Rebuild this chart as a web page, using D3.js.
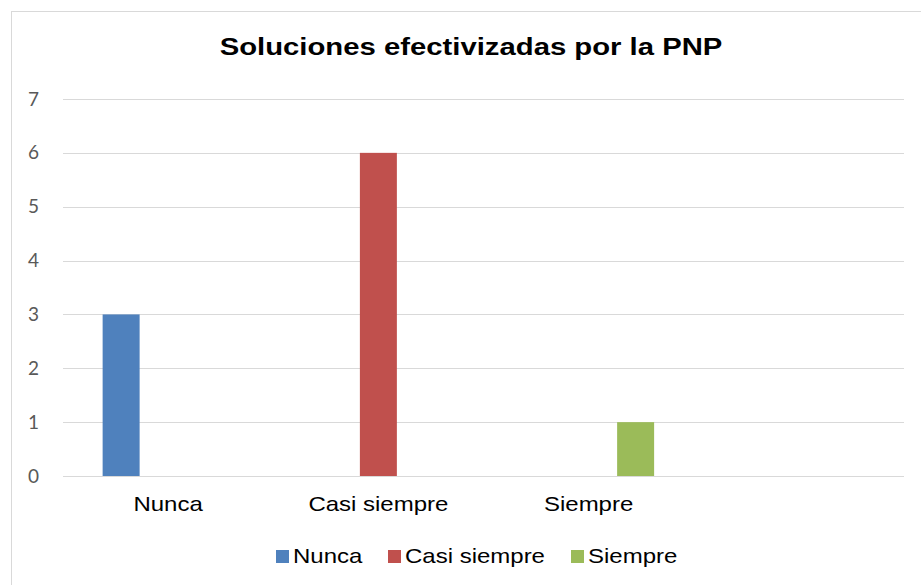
<!DOCTYPE html>
<meta charset="utf-8">
<script src="https://d3js.org/d3.v7.min.js"></script>
<style>
body { margin: 0; background: #fff; }
</style>
<div id="chart"></div>
<script>
// data
var categories = ["Nunca", "Casi siempre", "Siempre", ""];
var series = ["Nunca", "Casi siempre", "Siempre"];
var values = {
  "Nunca":        [3, 0, 0, 0],
  "Casi siempre": [0, 6, 0, 0],
  "Siempre":      [0, 0, 1, 0]
};
var yTicks = [0, 1, 2, 3, 4, 5, 6, 7];
var colors = ["#4F81BD", "#C0504D", "#9BBB59"];

var W = 921, H = 585;
var margin = {top: 99, right: 17, bottom: 109, left: 63},
    width = W - margin.left - margin.right,
    height = H - margin.top - margin.bottom;

// the source picture is a bit wider than tall, so text is stretched sideways
var stretch = 1.2;

var svg = d3.select("#chart").append("svg")
    .attr("width", W)
    .attr("height", H);

// chart area border
svg.append("rect")
    .attr("x", 11.5).attr("y", 11.5)
    .attr("width", 940).attr("height", 600)
    .attr("fill", "none")
    .attr("stroke", "#D9D9D9");

svg.append("text")
    .attr("transform", "translate(471,55) scale(" + 1.22 + ",1)")
    .attr("text-anchor", "middle")
    .style("font-family", "'Liberation Sans', Arial, sans-serif")
    .style("font-weight", "bold")
    .style("font-size", "24px")
    .text("Soluciones efectivizadas por la PNP");

var g = svg.append("g")
    .attr("transform", "translate(" + margin.left + "," + margin.top + ")");

var x0 = d3.scaleBand().domain(categories).range([0, width]);
var cw = x0.bandwidth();
var x1 = d3.scaleBand().domain(series)
    .range([cw / 2 - 70.5, cw / 2 + 70.5])
    .paddingInner(0.213).paddingOuter(0.1065);

var y = d3.scaleLinear().domain([0, 7]).range([height, 0]);

// gridlines
g.append("g")
  .selectAll("line")
  .data(yTicks)
  .enter().append("line")
    .attr("x1", 0).attr("x2", width)
    .attr("y1", function(d) { return Math.round(y(d)) + 0.5; })
    .attr("y2", function(d) { return Math.round(y(d)) + 0.5; })
    .attr("stroke", "#D9D9D9")
    .attr("stroke-width", 1.2);

// y axis labels
var yAxis = g.append("g")
    .call(d3.axisLeft(y).tickValues(yTicks).tickFormat(d3.format("d"))
      .tickSize(0).tickPadding(24));
yAxis.select(".domain").remove();
yAxis.selectAll("text")
    .style("font-family", "Lato, 'Open Sans', sans-serif")
    .style("font-size", "19px")
    .attr("fill", "#595959");

// bars
series.forEach(function(s, i) {
  g.append("g")
    .selectAll("rect")
    .data(values[s].map(function(v, j) { return {cat: categories[j], v: v}; })
      .filter(function(d) { return d.v > 0; }))
    .enter().append("rect")
      .attr("x", function(d) { return x0(d.cat) + x1(s); })
      .attr("width", x1.bandwidth())
      .attr("y", function(d) { return y(d.v); })
      .attr("height", function(d) { return y(0) - y(d.v); })
      .attr("fill", colors[i]);
});

// x axis labels
var xAxis = g.append("g")
    .attr("transform", "translate(0," + height + ")")
    .call(d3.axisBottom(x0).tickSize(0).tickPadding(21));
xAxis.select(".domain").remove();
xAxis.selectAll("text")
    .attr("transform", "scale(" + stretch + ",1)")
    .style("font-family", "'Liberation Sans', Arial, sans-serif")
    .style("font-size", "20px")
    .attr("fill", "#000");

// legend
var legendX = [276, 388, 571];
var legend = svg.append("g");
series.forEach(function(s, i) {
  legend.append("rect")
    .attr("x", legendX[i]).attr("y", 550)
    .attr("width", 13).attr("height", 13)
    .attr("fill", colors[i]);
  legend.append("text")
    .attr("transform", "translate(" + (legendX[i] + 17) + ",563) scale(" + stretch + ",1)")
    .style("font-family", "'Liberation Sans', Arial, sans-serif")
    .style("font-size", "20px")
    .attr("fill", "#000")
    .text(s);
});
</script>
